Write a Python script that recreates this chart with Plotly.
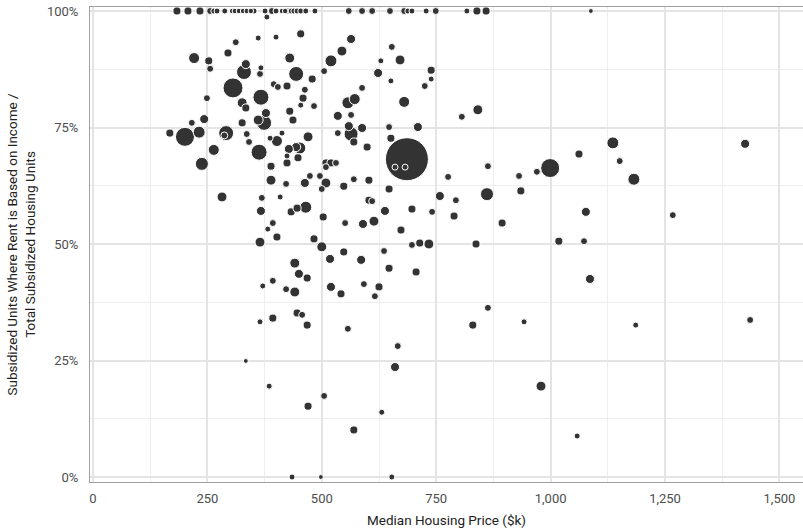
import numpy as np
import plotly.graph_objects as go

# Median housing price ($k)
price = [
    183.5, 207.6, 233.8, 256, 264, 271, 288, 304, 310, 319, 328, 336, 345, 352, 376, 380, 391, 400,
    413, 420, 426, 433, 439, 446, 454, 465, 485, 559, 588, 610, 649, 680, 688, 697, 728, 749, 817,
    839, 859, 1088,
    312, 361, 400, 454, 564, 544, 520, 505, 430, 444, 479, 424, 395, 404, 463, 459, 454, 483, 430,
    437, 470, 402, 387, 452, 444, 428, 448, 424, 424, 389, 389, 422, 463, 474, 496, 509, 520, 531,
    509, 509, 500, 548, 570, 603, 647, 557, 572, 535, 564, 559, 564, 535, 588, 570, 599, 588, 623,
    629, 653, 671, 651, 680, 647, 710, 651, 686, 660, 682, 739, 739, 725, 758, 776, 221, 253, 256,
    295, 330, 334, 365, 367, 306, 367, 249, 326, 334, 378, 361, 374, 326, 243, 216, 232, 168, 201,
    291, 287, 336, 341, 413, 264, 363, 238, 282, 369, 409,
    367, 433, 446, 465, 503, 551, 590, 614, 638, 603, 610, 697, 741, 673, 393, 382, 402, 365, 483,
    500, 518, 548, 586, 636, 647, 706, 697, 714, 734, 441, 450, 468, 371, 393, 422, 441, 520, 542,
    592, 625, 616, 365, 393, 446, 457, 468, 557,
    666, 334, 660, 385, 505, 470, 631, 570, 435, 498, 653,
    806, 841, 863, 793, 861, 931, 935, 970, 999, 1062, 1136, 1151, 1182, 1425, 789, 894, 837, 1077,
    1267, 1018, 1073, 1086, 863, 830, 942, 1186, 1436, 979, 1058,
]

# Share of subsidized units where rent is based on income
share = [
    1, 1, 1, 1, 1, 1, 1, 1, 1, 1, 1, 1, 1, 1, 1, 0.987, 1, 1,
    1, 1, 1, 1, 1, 1, 1, 1, 1, 1, 1, 1, 1, 1, 1, 1, 1, 1, 1,
    1, 1, 1,
    0.933, 0.942, 0.944, 0.951, 0.940, 0.914, 0.893, 0.871, 0.899, 0.865, 0.854, 0.839, 0.843, 0.837,
    0.831, 0.813, 0.798, 0.796, 0.785, 0.766, 0.730, 0.721, 0.727, 0.706, 0.708, 0.704, 0.685, 0.674,
    0.689, 0.667, 0.637, 0.629, 0.631, 0.646, 0.646, 0.674, 0.674, 0.674, 0.665, 0.631, 0.618, 0.624,
    0.639, 0.637, 0.618, 0.803, 0.811, 0.775, 0.777, 0.753, 0.736, 0.738, 0.749, 0.719, 0.708, 0.835,
    0.867, 0.893, 0.923, 0.895, 0.850, 0.805, 0.751, 0.751, 0.727, 0.682, 0.665, 0.665, 0.873, 0.854,
    0.839, 0.603, 0.644, 0.899, 0.893, 0.876, 0.910, 0.869, 0.886, 0.865, 0.878, 0.835, 0.815, 0.813,
    0.803, 0.792, 0.781, 0.766, 0.760, 0.760, 0.768, 0.760, 0.740, 0.738, 0.730, 0.738, 0.733, 0.736,
    0.719, 0.738, 0.702, 0.697, 0.672, 0.601, 0.599, 0.601,
    0.571, 0.569, 0.577, 0.579, 0.558, 0.545, 0.543, 0.549, 0.571, 0.594, 0.592, 0.575, 0.569, 0.530,
    0.545, 0.532, 0.515, 0.504, 0.511, 0.494, 0.468, 0.483, 0.466, 0.485, 0.448, 0.440, 0.498, 0.502,
    0.500, 0.459, 0.436, 0.427, 0.410, 0.421, 0.403, 0.397, 0.408, 0.393, 0.414, 0.408, 0.388, 0.333,
    0.341, 0.352, 0.348, 0.326, 0.318,
    0.281, 0.249, 0.236, 0.195, 0.174, 0.152, 0.139, 0.101, 0, 0, 0,
    0.773, 0.788, 0.667, 0.594, 0.607, 0.646, 0.614, 0.655, 0.663, 0.693, 0.717, 0.678, 0.639, 0.715,
    0.560, 0.545, 0.500, 0.569, 0.562, 0.506, 0.506, 0.425, 0.363, 0.326, 0.333, 0.326, 0.337, 0.195,
    0.088,
]

# Total subsidized housing units (hundreds) -> bubble size
units = [
    10, 10, 10, 7, 5, 5, 5, 4, 4, 4, 4, 4, 4, 5, 5, 5, 7, 5,
    4, 4, 5, 5, 5, 5, 5, 5, 5, 7, 7, 7, 7, 7, 5, 5, 5, 7, 5,
    10, 10, 3,
    7, 5, 5, 10, 13, 16, 24, 7, 16, 39, 10, 10, 7, 7, 7, 10, 5, 7, 10, 10, 16, 20, 5, 24, 13, 13,
    10, 10, 5, 10, 16, 7, 13, 7, 7, 10, 10, 7, 7, 16, 7, 10, 7, 10, 10, 24, 20, 13, 7, 13, 34, 7,
    13, 10, 10, 7, 13, 5, 7, 16, 5, 20, 7, 13, 10, 353, 5, 5, 10, 5, 7, 13, 7, 20, 10, 7, 10, 39,
    13, 7, 5, 72, 45, 7, 16, 10, 13, 16, 39, 10, 13, 7, 24, 10, 65, 39, 7, 7, 7, 5, 20, 45, 29, 16,
    7, 5,
    13, 10, 10, 24, 10, 7, 13, 16, 13, 10, 7, 10, 7, 10, 7, 5, 10, 16, 10, 16, 13, 10, 13, 7, 10,
    10, 7, 10, 16, 16, 13, 10, 5, 7, 7, 16, 13, 10, 7, 10, 7, 5, 10, 10, 7, 10, 7,
    7, 3, 13, 5, 7, 10, 5, 10, 5, 3, 5,
    7, 16, 7, 7, 29, 7, 10, 7, 65, 10, 24, 7, 24, 13, 10, 10, 10, 13, 7, 10, 7, 13, 7, 10, 5, 5, 7,
    16, 5,
]

x_ticks = [0, 250, 500, 750, 1000, 1250, 1500]
x_tick_labels = ["0", "250", "500", "750", "1,000", "1,250", "1,500"]
y_ticks = [0, 0.25, 0.5, 0.75, 1.0]
y_tick_labels = ["0%", "25%", "50%", "75%", "100%"]

n = min(len(price), len(share), len(units))
p = np.array(price[:n], dtype=float)
s = np.array(share[:n], dtype=float)
u = np.array(units[:n], dtype=float)
order = np.argsort(-u, kind="stable")
p, s, u = p[order], s[order], u[order]
marker_size = np.sqrt(5 * u) + 1

font_family = "Liberation Sans Narrow, Roboto, sans-serif"

fig = go.Figure(go.Scatter(
    x=p, y=s, mode="markers",
    marker=dict(size=marker_size, sizemode="diameter", color="#333333",
                line=dict(color="white", width=1), opacity=1),
    hoverinfo="skip", showlegend=False,
))

grid_major = "#e4e4e4"
grid_minor = "#eeeeee"

fig.update_layout(
    template="none",
    width=803, height=531,
    margin=dict(l=90, r=0, t=7, b=49, autoexpand=False),
    paper_bgcolor="white", plot_bgcolor="white",
    font=dict(family=font_family, size=13, color="#222222"),
    xaxis=dict(
        range=[-6.5, 1551.5], automargin=False,
        tickmode="array", tickvals=x_ticks, ticktext=x_tick_labels,
        tickfont=dict(size=13, color="#4d4d4d"),
        showgrid=True, gridcolor=grid_major, gridwidth=1.6,
        minor=dict(dtick=125, tick0=0, showgrid=True, gridcolor=grid_minor, gridwidth=1),
        showline=True, linecolor="#a0a0a0", linewidth=1, mirror=True,
        zeroline=False, ticks="", ticklabelstandoff=4,
        title=dict(text="Median Housing Price ($k)", font=dict(size=13.5, color="#222222"), standoff=10),
    ),
    yaxis=dict(
        range=[-0.0107, 1.0086], automargin=False,
        tickmode="array", tickvals=y_ticks, ticktext=y_tick_labels,
        tickfont=dict(size=13, color="#4d4d4d"),
        showgrid=True, gridcolor=grid_major, gridwidth=1.6,
        minor=dict(dtick=0.125, tick0=0, showgrid=True, gridcolor=grid_minor, gridwidth=1),
        showline=True, linecolor="#a0a0a0", linewidth=1, mirror=False,
        zeroline=False, ticks="", ticklabelstandoff=8,
        title=dict(text="Subsidized Units Where Rent is Based on Income /<br>Total Subsidized Housing Units",
                   font=dict(size=13.5, color="#222222"), standoff=8),
    ),
)

fig.write_html("out.html", config={"displayModeBar": False},
               post_script="document.body.style.margin='0';document.body.style.padding='0';")
